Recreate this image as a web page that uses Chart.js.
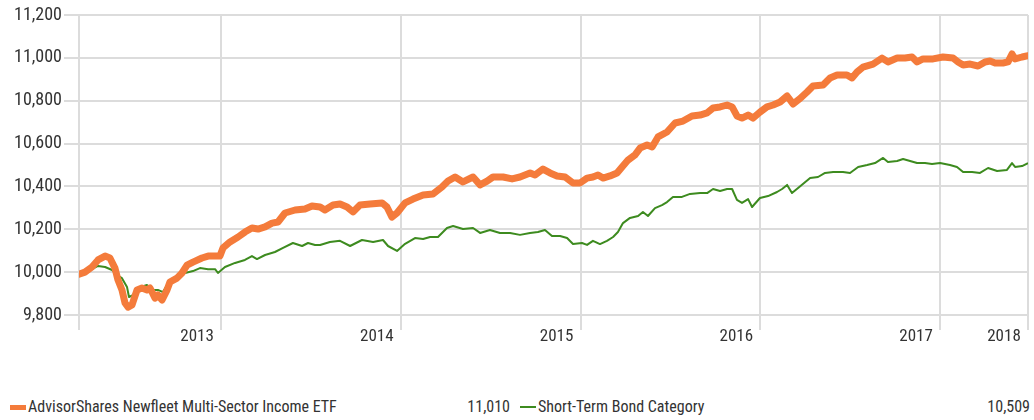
<!DOCTYPE html>
<html>
<head>
<meta charset="utf-8">
<script src="https://cdn.jsdelivr.net/npm/chart.js@4.4.1/dist/chart.umd.min.js"></script>
<style>
  html, body { margin: 0; padding: 0; background: #ffffff; width: 1034px; height: 420px; overflow: hidden; }
  body { font-family: 'Liberation Sans Narrow', 'Roboto Condensed', 'DejaVu Sans Condensed', Roboto, sans-serif; color: #333333; }
  #wrap { position: absolute; left: 0; top: 0; width: 1034px; height: 360px; }
  #legend { position: absolute; left: 0; top: 395px; width: 1034px; height: 24px; font-size: 16px; }
  .lg-name { position: absolute; top: 0; height: 24px; line-height: 24px; white-space: nowrap; }
  .lg-val { position: absolute; top: 0; height: 24px; line-height: 24px; text-align: right; white-space: nowrap; }
  .lg-mark { position: absolute; }
</style>
</head>
<body>
<div id="wrap"><canvas id="chart" width="1034" height="360"></canvas></div>
<div id="legend"></div>
<script>
// ---- Data (x = decimal year; year-end gridlines) ----
const fundDates = [
  2013.21, 2013.243, 2013.282, 2013.316, 2013.355, 2013.382, 2013.410, 2013.427, 2013.449, 2013.466,
  2013.483, 2013.505, 2013.533, 2013.560, 2013.588, 2013.605, 2013.633, 2013.649, 2013.672, 2013.700,
  2013.716, 2013.755, 2013.783, 2013.811, 2013.844, 2013.894, 2013.928, 2013.967, 2013.994, 2014.011,
  2014.050, 2014.095, 2014.133, 2014.172, 2014.206, 2014.245, 2014.284, 2014.317, 2014.356, 2014.412,
  2014.467, 2014.506, 2014.551, 2014.578, 2014.623, 2014.662, 2014.701, 2014.734, 2014.773, 2014.829,
  2014.896, 2014.923, 2014.951, 2014.979, 2015.024, 2015.068, 2015.124, 2015.179, 2015.229, 2015.263,
  2015.302, 2015.346, 2015.402, 2015.441, 2015.480, 2015.513, 2015.569, 2015.619, 2015.663, 2015.719,
  2015.747, 2015.791, 2015.830, 2015.869, 2015.914, 2015.958, 2015.997, 2016.036, 2016.069, 2016.097,
  2016.125, 2016.164, 2016.203, 2016.231, 2016.264, 2016.303, 2016.331, 2016.370, 2016.398, 2016.431,
  2016.481, 2016.526, 2016.570, 2016.620, 2016.665, 2016.704, 2016.737, 2016.776, 2016.815, 2016.843,
  2016.870, 2016.898, 2016.932, 2016.959, 2016.998, 2017.037, 2017.071, 2017.110, 2017.149, 2017.182,
  2017.221, 2017.260, 2017.293, 2017.349, 2017.388, 2017.427, 2017.482, 2017.510, 2017.538, 2017.571,
  2017.627, 2017.677, 2017.710, 2017.761, 2017.805, 2017.844, 2017.872, 2017.905, 2017.961, 2018.016,
  2018.072, 2018.100, 2018.128, 2018.167, 2018.211, 2018.250, 2018.278, 2018.306, 2018.350, 2018.378,
  2018.400, 2018.417, 2018.456, 2018.489
];
const fundValues = [
  9990, 10000, 10024, 10057, 10075, 10066, 10019, 9963, 9917, 9856,
  9837, 9847, 9917, 9926, 9917, 9926, 9879, 9893, 9870, 9917,
  9954, 9972, 9996, 10033, 10047, 10066, 10075, 10075, 10075, 10113,
  10141, 10164, 10187, 10206, 10201, 10211, 10229, 10234, 10276, 10290,
  10295, 10309, 10304, 10290, 10313, 10318, 10304, 10281, 10313, 10318,
  10323, 10304, 10257, 10276, 10323, 10341, 10360, 10365, 10397, 10425,
  10444, 10421, 10444, 10407, 10425, 10444, 10444, 10435, 10444, 10463,
  10453, 10481, 10463, 10449, 10444, 10416, 10416, 10439, 10444, 10453,
  10439, 10449, 10463, 10491, 10523, 10547, 10579, 10593, 10584, 10631,
  10654, 10696, 10705, 10729, 10733, 10743, 10766, 10771, 10780, 10771,
  10729, 10719, 10733, 10719, 10747, 10771, 10780, 10794, 10822, 10785,
  10810, 10841, 10869, 10873, 10906, 10920, 10920, 10906, 10934, 10957,
  10971, 10999, 10981, 10999, 10999, 11004, 10981, 10995, 10995, 11004,
  10999, 10981, 10967, 10971, 10962, 10981, 10985, 10976, 10976, 10981,
  11018, 10995, 11004, 11010
];
const catDates = [
  2013.21, 2013.260, 2013.316, 2013.355, 2013.394, 2013.421, 2013.449, 2013.477, 2013.488, 2013.510,
  2013.538, 2013.588, 2013.622, 2013.649, 2013.677, 2013.716, 2013.761, 2013.800, 2013.844, 2013.883,
  2013.928, 2013.967, 2013.983, 2014.022, 2014.078, 2014.133, 2014.172, 2014.200, 2014.245, 2014.300,
  2014.345, 2014.400, 2014.451, 2014.484, 2014.523, 2014.551, 2014.606, 2014.662, 2014.718, 2014.784,
  2014.846, 2014.901, 2014.929, 2014.979, 2015.024, 2015.079, 2015.124, 2015.163, 2015.207, 2015.257,
  2015.291, 2015.346, 2015.402, 2015.441, 2015.496, 2015.552, 2015.608, 2015.663, 2015.719, 2015.763,
  2015.802, 2015.841, 2015.886, 2015.925, 2015.958, 2016.008, 2016.036, 2016.069, 2016.108, 2016.147,
  2016.181, 2016.208, 2016.236, 2016.275, 2016.320, 2016.347, 2016.375, 2016.414, 2016.453, 2016.481,
  2016.514, 2016.564, 2016.609, 2016.665, 2016.704, 2016.737, 2016.776, 2016.815, 2016.843, 2016.870,
  2016.898, 2016.932, 2016.954, 2016.998, 2017.043, 2017.093, 2017.121, 2017.149, 2017.176, 2017.210,
  2017.277, 2017.321, 2017.360, 2017.405, 2017.460, 2017.499, 2017.544, 2017.594, 2017.638, 2017.683,
  2017.710, 2017.761, 2017.794, 2017.833, 2017.872, 2017.916, 2017.955, 2018.000, 2018.055, 2018.094,
  2018.128, 2018.178, 2018.222, 2018.267, 2018.317, 2018.372, 2018.400, 2018.417, 2018.456, 2018.489
];
const catValues = [
  9990, 10005, 10029, 10024, 10010, 9986, 9972, 9931, 9884, 9893,
  9926, 9940, 9917, 9917, 9907, 9963, 9977, 9996, 10005, 10019,
  10014, 10014, 9996, 10024, 10043, 10057, 10075, 10061, 10080, 10094,
  10113, 10136, 10122, 10136, 10127, 10127, 10141, 10146, 10122, 10150,
  10141, 10150, 10122, 10099, 10132, 10159, 10155, 10164, 10164, 10206,
  10215, 10201, 10206, 10183, 10197, 10183, 10183, 10174, 10183, 10187,
  10197, 10169, 10169, 10159, 10131, 10136, 10127, 10146, 10131, 10146,
  10164, 10187, 10229, 10253, 10262, 10281, 10262, 10299, 10313, 10327,
  10351, 10351, 10365, 10369, 10369, 10388, 10379, 10388, 10388, 10337,
  10323, 10341, 10304, 10346, 10355, 10374, 10388, 10407, 10369, 10393,
  10439, 10444, 10463, 10467, 10467, 10463, 10491, 10500, 10509, 10533,
  10514, 10519, 10528, 10519, 10509, 10509, 10505, 10509, 10500, 10491,
  10467, 10467, 10463, 10486, 10472, 10477, 10509, 10491, 10495, 10509
];
const seriesNames = ['AdvisorShares Newfleet Multi-Sector Income ETF', 'Short-Term Bond Category'];
const seriesColors = ['#F47B3B', '#3D8B1F'];
const yTickValues = [9800, 10000, 10200, 10400, 10600, 10800, 11000, 11200];
const xTickValues = [2013.21, 2014, 2015, 2016, 2017, 2018, 2018.489];
const xTickLabels = ['', '2013', '2014', '2015', '2016', '2017', '2018'];

const FONT = "'Liberation Sans Narrow', 'Roboto Condensed', 'DejaVu Sans Condensed', Roboto, sans-serif";
const GRID = '#dcdcdc';

const toPoints = (xs, ys) => xs.map((x, i) => ({ x: x, y: ys[i] }));

new Chart(document.getElementById('chart'), {
  type: 'line',
  data: {
    datasets: [
      {
        label: seriesNames[0],
        data: toPoints(fundDates, fundValues),
        borderColor: seriesColors[0],
        backgroundColor: seriesColors[0],
        borderWidth: 7,
        borderCapStyle: 'round',
        borderJoinStyle: 'round',
        pointRadius: 0,
        tension: 0,
        order: 0
      },
      {
        label: seriesNames[1],
        data: toPoints(catDates, catValues),
        borderColor: seriesColors[1],
        backgroundColor: seriesColors[1],
        borderWidth: 2,
        borderJoinStyle: 'round',
        pointRadius: 0,
        tension: 0,
        order: 1
      }
    ]
  },
  options: {
    responsive: false,
    animation: false,
    devicePixelRatio: 1,
    layout: { padding: { top: 15, right: 6, left: 0, bottom: 0 } },
    plugins: { legend: { display: false }, tooltip: { enabled: false } },
    scales: {
      x: {
        type: 'linear',
        min: xTickValues[0],
        max: xTickValues[xTickValues.length - 1],
        afterBuildTicks: (s) => { s.ticks = xTickValues.map(v => ({ value: v })); },
        afterFit: (s) => { s.height = 45; s.paddingLeft = 0; s.paddingRight = 0; },
        grid: { color: GRID, lineWidth: 2, tickLength: 15, drawTicks: true },
        border: { display: false },
        ticks: {
          autoSkip: false, maxRotation: 0, minRotation: 0,
          callback: (v, i) => xTickLabels[i],
          labelOffset: -24, padding: -3,
          color: '#333333', font: { family: FONT, size: 17 }
        }
      },
      y: {
        min: yTickValues[0],
        max: yTickValues[yTickValues.length - 1],
        afterBuildTicks: (s) => { s.ticks = yTickValues.map(v => ({ value: v })); },
        afterFit: (s) => { s.width = 79; },
        grid: { color: GRID, lineWidth: 2, tickLength: 15, drawTicks: true },
        border: { display: false },
        ticks: {
          callback: (v) => v.toLocaleString('en-US'),
          padding: 2,
          color: '#333333', font: { family: FONT, size: 18 }
        }
      }
    }
  }
});

// ---- Legend (HTML) ----
const legend = document.getElementById('legend');
const finals = [fundValues[fundValues.length - 1], catValues[catValues.length - 1]];
const cols = [{ mark: 10, text: 28, valRight: 510, markW: 16, markH: 5 },
              { mark: 520, text: 538, valRight: 1030, markW: 16, markH: 2 }];
seriesNames.forEach((name, i) => {
  const c = cols[i];
  const m = document.createElement('div');
  m.className = 'lg-mark';
  m.style.left = c.mark + 'px';
  m.style.width = c.markW + 'px';
  m.style.height = c.markH + 'px';
  m.style.top = (12 - c.markH / 2) + 'px';
  m.style.background = seriesColors[i];
  legend.appendChild(m);
  const t = document.createElement('div');
  t.className = 'lg-name';
  t.style.left = c.text + 'px';
  t.textContent = name;
  legend.appendChild(t);
  const v = document.createElement('div');
  v.className = 'lg-val';
  v.style.left = (c.valRight - 120) + 'px';
  v.style.width = '120px';
  v.textContent = finals[i].toLocaleString('en-US');
  legend.appendChild(v);
});
</script>
</body>
</html>
